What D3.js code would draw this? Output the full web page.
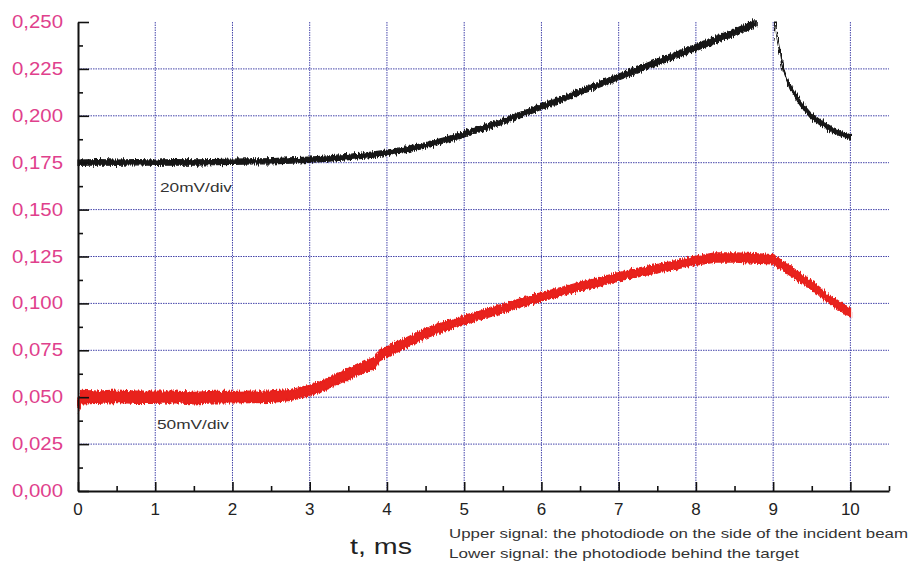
<!DOCTYPE html>
<html>
<head>
<meta charset="utf-8">
<script src="https://cdn.jsdelivr.net/npm/d3@7"></script>
<style>
  body { margin: 0; background: #fff; }
  text { font-family: Arial, "Liberation Sans", sans-serif; }
</style>
</head>
<body>
<script>
// time samples (ms)
var tUp = [0,0.25,0.5,0.75,1,1.25,1.5,1.75,2,2.25,2.5,2.75,3,3.25,3.5,3.75,4,4.25,4.5,4.75,5,5.25,5.5,5.75,6,6.25,6.5,6.75,7,7.25,7.5,7.75,8,8.25,8.5,8.75,8.78];
var upper = [0.175,0.1752,0.175,0.1753,0.175,0.1752,0.1751,0.1753,0.1755,0.1757,0.1758,0.1762,0.1766,0.1772,0.178,0.179,0.1803,0.182,0.1843,0.187,0.1902,0.1935,0.197,0.2008,0.2048,0.2088,0.2128,0.2168,0.2207,0.2245,0.2285,0.2325,0.2365,0.2405,0.2445,0.2488,0.2496];
var upperSpread = [0.0014,0.0014,0.0014,0.0014,0.0014,0.0014,0.0014,0.0014,0.0014,0.0014,0.0014,0.0014,0.0014,0.0014,0.0014,0.0014,0.0014,0.0014,0.0014,0.0014,0.0014,0.0014,0.0015,0.0015,0.0015,0.0015,0.0015,0.0015,0.0016,0.0016,0.0017,0.0017,0.0018,0.0018,0.0018,0.0018,0.0016];

// decay after the pulse at 9 ms
var tDecay = [9.03,9.05,9.1,9.13,9.22,9.35,9.48,9.6,9.77,9.9,10];
var decay = [0.2500,0.2420,0.2310,0.2250,0.2154,0.2068,0.2004,0.1967,0.1924,0.1902,0.1887];
var decaySpread = [0.0008,0.0009,0.0010,0.0011,0.0012,0.0013,0.0014,0.0014,0.0014,0.0014,0.0014];

var tLow = [0,0.05,0.25,0.5,0.75,1,1.25,1.5,1.75,2,2.25,2.5,2.75,3,3.25,3.5,3.75,3.85,3.9,4,4.25,4.5,4.75,5,5.25,5.5,5.75,6,6.25,6.5,6.75,7,7.25,7.5,7.75,8,8.25,8.5,8.75,9,9.25,9.5,9.75,10];
var lower = [0.046,0.050,0.050,0.0505,0.050,0.050,0.0502,0.0495,0.050,0.050,0.0502,0.0503,0.0512,0.0535,0.0575,0.0625,0.0668,0.0685,0.0722,0.0742,0.0790,0.0840,0.0878,0.0912,0.0942,0.0972,0.1005,0.1035,0.1062,0.1090,0.1115,0.1142,0.1165,0.1185,0.1205,0.1228,0.1245,0.1245,0.1240,0.1235,0.1165,0.1095,0.1015,0.0950];
var lowerSpread = [0.004,0.0035,0.0032,0.0032,0.0032,0.0032,0.003,0.003,0.003,0.003,0.003,0.003,0.0028,0.0028,0.0028,0.0028,0.0028,0.0028,0.0028,0.0028,0.0026,0.0025,0.0024,0.0024,0.0022,0.0022,0.0022,0.0022,0.0022,0.0022,0.0022,0.0022,0.0022,0.0022,0.0022,0.0024,0.0024,0.0024,0.0024,0.0024,0.0024,0.0022,0.0022,0.0022];

var xTicks = [0,1,2,3,4,5,6,7,8,9,10];
var yTicks = [0,0.025,0.05,0.075,0.1,0.125,0.15,0.175,0.2,0.225,0.25];
var yLabels = ["0,000","0,025","0,050","0,075","0,100","0,125","0,150","0,175","0,200","0,225","0,250"];
var notes = ["Upper signal: the photodiode on the side of the incident beam",
             "Lower signal: the photodiode behind the target"];

var width = 911, height = 562;
var margin = {top: 22, right: 22, bottom: 71, left: 78};

var x = d3.scaleLinear().domain([0, 10.5]).range([margin.left, width - margin.right]);
var y = d3.scaleLinear().domain([0, 0.25]).range([height - margin.bottom, margin.top]);

var svg = d3.select('body').append('svg')
  .attr('width', width)
  .attr('height', height);

// rough edge for the noisy traces
var defs = svg.append('defs');
var f = defs.append('filter').attr('id', 'noisy')
  .attr('x', '-5%').attr('y', '-20%').attr('width', '110%').attr('height', '140%');
f.append('feTurbulence').attr('type', 'fractalNoise')
  .attr('baseFrequency', '0.9 0.08').attr('numOctaves', 2).attr('seed', 4).attr('result', 'n');
f.append('feDisplacementMap').attr('in', 'SourceGraphic').attr('in2', 'n')
  .attr('scale', 6).attr('xChannelSelector', 'R').attr('yChannelSelector', 'G');

// grid
var grid = svg.append('g').attr('stroke', '#4545aa').attr('stroke-width', 1)
  .attr('stroke-dasharray', '1.5,1');
grid.selectAll('.gv').data(xTicks.slice(1)).enter().append('line')
  .attr('x1', function(d) { return x(d); }).attr('x2', function(d) { return x(d); })
  .attr('y1', y(0.25)).attr('y2', y(0));
grid.selectAll('.gh').data(yTicks.slice(1, -1)).enter().append('line')
  .attr('x1', x(0)).attr('x2', x(10.5))
  .attr('y1', function(d) { return y(d); }).attr('y2', function(d) { return y(d); });

// traces
function band(ts, vs, sp) {
  return ts.map(function(t, i) { return {t: t, v: vs[i], s: sp[i]}; });
}
var area = d3.area()
  .x(function(d) { return x(d.t); })
  .y0(function(d) { return y(d.v - d.s); })
  .y1(function(d) { return y(d.v + d.s); });

var traces = svg.append('g').attr('filter', 'url(#noisy)');
traces.append('path').datum(band(tLow, lower, lowerSpread))
  .attr('d', area).attr('fill', '#e8201e').attr('stroke', '#e8201e').attr('stroke-width', 1.5);
traces.append('path').datum(band(tUp, upper, upperSpread))
  .attr('d', area).attr('fill', '#161616').attr('stroke', '#161616').attr('stroke-width', 1.2);
traces.append('path').datum(band(tDecay, decay, decaySpread))
  .attr('d', area).attr('fill', '#161616').attr('stroke', '#161616').attr('stroke-width', 1.2);

// axes
var xAxis = d3.axisBottom(x).tickValues(d3.range(0, 10.51, 0.5)).tickSize(0).tickFormat('');
var gx = svg.append('g').attr('transform', 'translate(0,' + y(0) + ')').call(xAxis);
gx.select('.domain').attr('stroke', '#111').attr('stroke-width', 2);
gx.selectAll('.tick line')
  .attr('y2', function(d) { return (d % 1 === 0) ? -9 : -5; })
  .attr('stroke', '#111').attr('stroke-width', 1.6);
svg.append('g').selectAll('text').data(xTicks).enter().append('text')
  .attr('x', function(d) { return x(d); }).attr('y', y(0) + 24)
  .attr('text-anchor', 'middle').attr('font-size', 17).attr('fill', '#222')
  .text(function(d) { return d; });

var yAxis = d3.axisLeft(y).tickValues(d3.range(0, 0.2501, 0.0125)).tickSize(0).tickFormat('');
var gy = svg.append('g').attr('transform', 'translate(' + x(0) + ',0)').call(yAxis);
gy.select('.domain').attr('stroke', '#111').attr('stroke-width', 2);
gy.selectAll('.tick line')
  .attr('x2', function(d, i) { return (i % 2 === 0) ? 11 : 5; })
  .attr('stroke', '#111').attr('stroke-width', 1.6);
svg.append('g').selectAll('text').data(yTicks).enter().append('text')
  .attr('x', 63).attr('y', function(d) { return y(d) + 6; })
  .attr('text-anchor', 'end').attr('font-size', 17.5).attr('fill', '#e0408c')
  .attr('textLength', 51).attr('lengthAdjust', 'spacingAndGlyphs')
  .text(function(d, i) { return yLabels[i]; });

// labels
svg.append('text').attr('x', 350).attr('y', 554).attr('font-size', 22).attr('fill', '#222')
  .attr('textLength', 62).attr('lengthAdjust', 'spacingAndGlyphs')
  .text('t, ms');
var noteLen = [459, 350];
svg.selectAll('.note').data(notes).enter().append('text')
  .attr('x', 449).attr('y', function(d, i) { return 538 + i * 20; })
  .attr('font-size', 13.5).attr('fill', '#333')
  .attr('textLength', function(d, i) { return noteLen[i]; }).attr('lengthAdjust', 'spacingAndGlyphs')
  .text(function(d) { return d; });
svg.append('text').attr('x', 160).attr('y', 192).attr('font-size', 13.5).attr('fill', '#333')
  .attr('textLength', 72).attr('lengthAdjust', 'spacingAndGlyphs')
  .text('20mV/div');
svg.append('text').attr('x', 157).attr('y', 429).attr('font-size', 13.5).attr('fill', '#333')
  .attr('textLength', 72).attr('lengthAdjust', 'spacingAndGlyphs')
  .text('50mV/div');
</script>
</body>
</html>
